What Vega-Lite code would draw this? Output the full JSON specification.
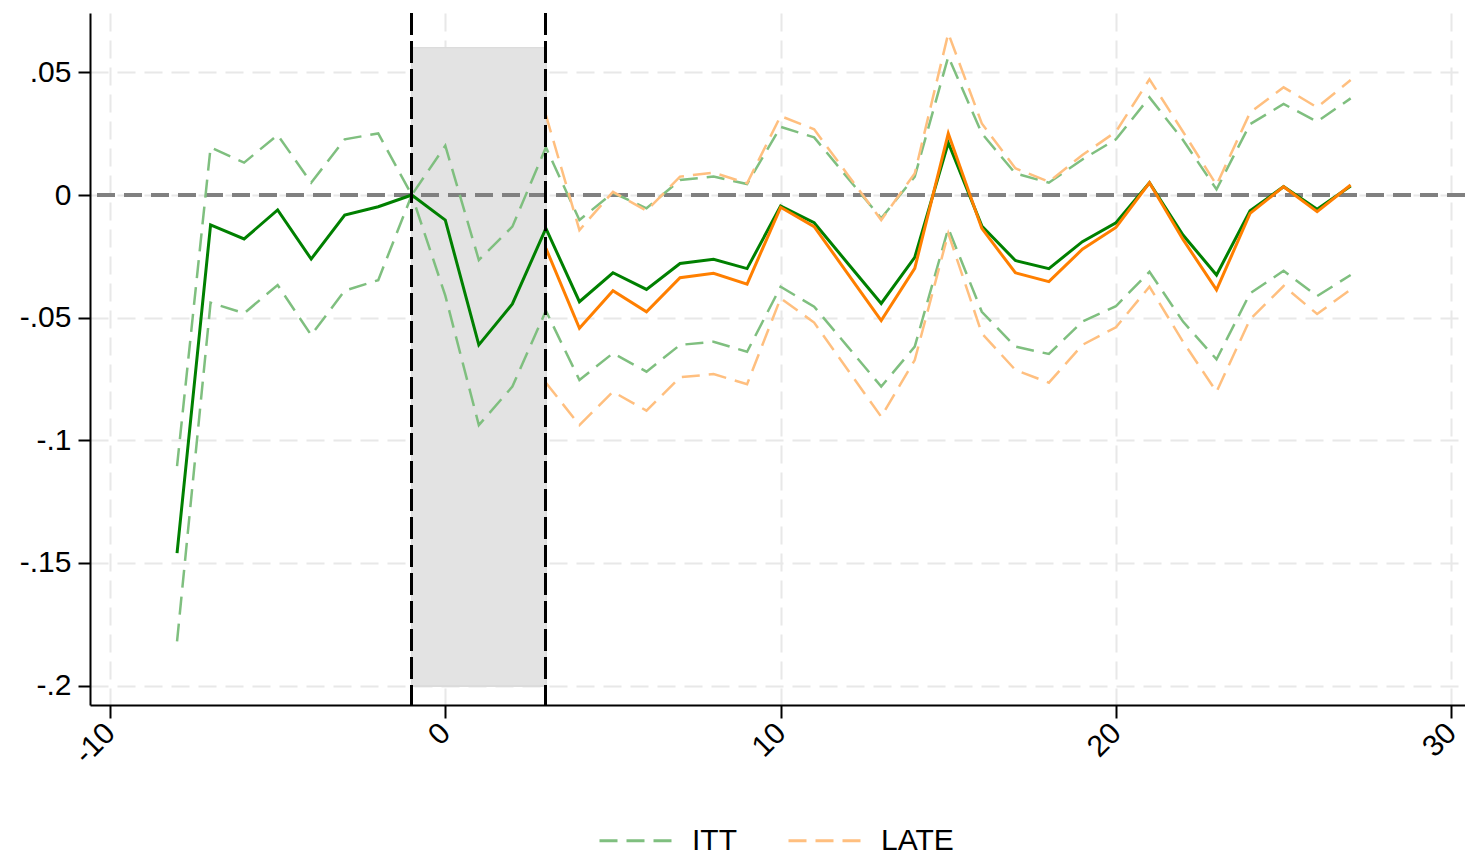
{
  "$schema": "https://vega.github.io/schema/vega-lite/v6.json",
  "width": 1375,
  "height": 692,
  "padding": {"left": 90, "top": 13, "right": 0, "bottom": 149},
  "autosize": {"type": "none"},
  "background": "white",
  "config": {
    "view": {"stroke": null},
    "font": "Liberation Sans",
    "axis": {
      "labelFont": "Liberation Sans",
      "labelFontSize": 30,
      "labelColor": "black",
      "domainColor": "black",
      "domainWidth": 2,
      "tickColor": "black",
      "tickWidth": 2,
      "grid": true,
      "gridColor": "#e8e8e8",
      "gridWidth": 2,
      "gridDash": [18, 9],
      "title": null
    }
  },
  "datasets": {
    "est": [
      {"t": -8, "g": "ITT", "est": -0.146, "lo": -0.182, "hi": -0.1105},
      {"t": -7, "g": "ITT", "est": -0.0122, "lo": -0.0439, "hi": 0.0194},
      {"t": -6, "g": "ITT", "est": -0.0179, "lo": -0.0482, "hi": 0.0132},
      {"t": -5, "g": "ITT", "est": -0.0061, "lo": -0.0367, "hi": 0.0245},
      {"t": -4, "g": "ITT", "est": -0.0261, "lo": -0.0571, "hi": 0.005},
      {"t": -3, "g": "ITT", "est": -0.0082, "lo": -0.039, "hi": 0.0227},
      {"t": -2, "g": "ITT", "est": -0.0048, "lo": -0.0347, "hi": 0.0251},
      {"t": -1, "g": "ITT", "est": 0, "lo": 0, "hi": 0},
      {"t": 0, "g": "ITT", "est": -0.0102, "lo": -0.041, "hi": 0.0201},
      {"t": 1, "g": "ITT", "est": -0.0611, "lo": -0.0938, "hi": -0.0265},
      {"t": 2, "g": "ITT", "est": -0.0444, "lo": -0.0781, "hi": -0.0129},
      {"t": 3, "g": "ITT", "est": -0.0136, "lo": -0.0472, "hi": 0.0194},
      {"t": 4, "g": "ITT", "est": -0.0435, "lo": -0.0754, "hi": -0.0102},
      {"t": 5, "g": "ITT", "est": -0.0317, "lo": -0.0645, "hi": 0.0009},
      {"t": 6, "g": "ITT", "est": -0.0385, "lo": -0.072, "hi": -0.0054},
      {"t": 7, "g": "ITT", "est": -0.0279, "lo": -0.0611, "hi": 0.0061},
      {"t": 8, "g": "ITT", "est": -0.0262, "lo": -0.0598, "hi": 0.0075},
      {"t": 9, "g": "ITT", "est": -0.03, "lo": -0.0639, "hi": 0.0045},
      {"t": 10, "g": "ITT", "est": -0.0045, "lo": -0.0374, "hi": 0.0278},
      {"t": 11, "g": "ITT", "est": -0.0113, "lo": -0.0455, "hi": 0.0235},
      {"t": 12, "g": "ITT", "est": -0.0278, "lo": -0.0618, "hi": 0.007},
      {"t": 13, "g": "ITT", "est": -0.0442, "lo": -0.0781, "hi": -0.0095},
      {"t": 14, "g": "ITT", "est": -0.0254, "lo": -0.0618, "hi": 0.0075},
      {"t": 15, "g": "ITT", "est": 0.0213, "lo": -0.0136, "hi": 0.0564},
      {"t": 16, "g": "ITT", "est": -0.0126, "lo": -0.0476, "hi": 0.0251},
      {"t": 17, "g": "ITT", "est": -0.0267, "lo": -0.0618, "hi": 0.0088},
      {"t": 18, "g": "ITT", "est": -0.03, "lo": -0.0648, "hi": 0.005},
      {"t": 19, "g": "ITT", "est": -0.019, "lo": -0.0516, "hi": 0.0145},
      {"t": 20, "g": "ITT", "est": -0.0113, "lo": -0.0453, "hi": 0.0227},
      {"t": 21, "g": "ITT", "est": 0.005, "lo": -0.0313, "hi": 0.0398},
      {"t": 22, "g": "ITT", "est": -0.0163, "lo": -0.0516, "hi": 0.0224},
      {"t": 23, "g": "ITT", "est": -0.0326, "lo": -0.067, "hi": 0.0023},
      {"t": 24, "g": "ITT", "est": -0.0064, "lo": -0.0401, "hi": 0.0289},
      {"t": 25, "g": "ITT", "est": 0.0034, "lo": -0.0309, "hi": 0.0371},
      {"t": 26, "g": "ITT", "est": -0.0058, "lo": -0.0412, "hi": 0.0299},
      {"t": 27, "g": "ITT", "est": 0.0037, "lo": -0.0326, "hi": 0.0394},
      {"t": 3, "g": "LATE", "est": -0.0217, "lo": -0.0765, "hi": 0.0326},
      {"t": 4, "g": "LATE", "est": -0.0543, "lo": -0.0938, "hi": -0.0143},
      {"t": 5, "g": "LATE", "est": -0.039, "lo": -0.0802, "hi": 0.0013},
      {"t": 6, "g": "LATE", "est": -0.0476, "lo": -0.0879, "hi": -0.0064},
      {"t": 7, "g": "LATE", "est": -0.0337, "lo": -0.0743, "hi": 0.0075},
      {"t": 8, "g": "LATE", "est": -0.0319, "lo": -0.073, "hi": 0.0091},
      {"t": 9, "g": "LATE", "est": -0.0363, "lo": -0.0771, "hi": 0.0048},
      {"t": 10, "g": "LATE", "est": -0.005, "lo": -0.0421, "hi": 0.0322},
      {"t": 11, "g": "LATE", "est": -0.0129, "lo": -0.052, "hi": 0.0268},
      {"t": 12, "g": "LATE", "est": -0.032, "lo": -0.0712, "hi": 0.0083},
      {"t": 13, "g": "LATE", "est": -0.0512, "lo": -0.0904, "hi": -0.0102},
      {"t": 14, "g": "LATE", "est": -0.0299, "lo": -0.0673, "hi": 0.0088},
      {"t": 15, "g": "LATE", "est": 0.0251, "lo": -0.0156, "hi": 0.0659},
      {"t": 16, "g": "LATE", "est": -0.0136, "lo": -0.0564, "hi": 0.0292},
      {"t": 17, "g": "LATE", "est": -0.0317, "lo": -0.0713, "hi": 0.0109},
      {"t": 18, "g": "LATE", "est": -0.0353, "lo": -0.0765, "hi": 0.0054},
      {"t": 19, "g": "LATE", "est": -0.0221, "lo": -0.0611, "hi": 0.0163},
      {"t": 20, "g": "LATE", "est": -0.0132, "lo": -0.0539, "hi": 0.0258},
      {"t": 21, "g": "LATE", "est": 0.005, "lo": -0.0374, "hi": 0.0472},
      {"t": 22, "g": "LATE", "est": -0.0181, "lo": -0.0598, "hi": 0.0258},
      {"t": 23, "g": "LATE", "est": -0.0387, "lo": -0.0802, "hi": 0.0041},
      {"t": 24, "g": "LATE", "est": -0.0075, "lo": -0.0507, "hi": 0.0336},
      {"t": 25, "g": "LATE", "est": 0.0034, "lo": -0.0371, "hi": 0.0439},
      {"t": 26, "g": "LATE", "est": -0.0068, "lo": -0.0485, "hi": 0.0357},
      {"t": 27, "g": "LATE", "est": 0.0041, "lo": -0.0385, "hi": 0.0469}
    ]
  },
  "data": {"name": "est"},
  "encoding": {
    "x": {
      "type": "quantitative",
      "scale": {"domain": [-10.596, 30.41], "nice": false, "zero": false},
      "axis": {
        "values": [-10, 0, 10, 20, 30],
        "grid": true,
        "labelAngle": -45,
        "labelAlign": "right",
        "labelBaseline": "middle",
        "tickSize": 13,
        "labelPadding": 10,
        "labelFlush": false,
        "labelOverlap": false,
        "labelExpr": "replace(format(datum.value, 'd'), '\u2212', '-')"
      }
    },
    "y": {
      "type": "quantitative",
      "scale": {"domain": [-0.2079, 0.0742], "nice": false, "zero": false},
      "axis": {
        "values": [-0.2, -0.15, -0.1, -0.05, 0, 0.05],
        "grid": true,
        "tickSize": 12,
        "labelPadding": 7,
        "labelFlush": false,
        "labelOverlap": false,
        "labelExpr": "datum.value == 0 ? '0' : replace(replace(format(datum.value, '~g'), '\u2212', '-'), '0.', '.')"
      }
    }
  },
  "layer": [
    {
      "mark": {"type": "rect", "fill": "#e3e3e3", "stroke": "#dcdcdc", "strokeWidth": 1},
      "encoding": {
        "x": {"datum": -1, "type": "quantitative"},
        "x2": {"datum": 3},
        "y": {"datum": -0.2, "type": "quantitative"},
        "y2": {"datum": 0.06}
      }
    },
    {
      "mark": {"type": "rule", "color": "#808080", "strokeWidth": 2.5, "strokeDash": [18, 9]},
      "encoding": {"y": {"datum": 0, "type": "quantitative"}}
    },
    {
      "mark": {"type": "line", "strokeWidth": 2.5, "strokeDash": [18, 9]},
      "encoding": {
        "x": {"field": "t", "type": "quantitative"},
        "y": {"field": "hi", "type": "quantitative"},
        "color": {
          "field": "g",
          "type": "nominal",
          "scale": {"domain": ["ITT", "LATE"], "range": ["#7fbf7f", "#ffbf7f"]},
          "legend": {
            "orient": "none",
            "legendX": 508,
            "legendY": 789,
            "direction": "horizontal",
            "title": null,
            "symbolType": "stroke",
            "symbolSize": 5476,
            "symbolStrokeWidth": 3,
            "symbolDash": [18, 9],
            "labelFont": "Liberation Sans",
            "labelFontSize": 30,
            "labelColor": "black",
            "labelOffset": 17,
            "columnPadding": 45,
            "padding": 0
          }
        }
      }
    },
    {
      "mark": {"type": "line", "strokeWidth": 2.5, "strokeDash": [18, 9]},
      "encoding": {
        "x": {"field": "t", "type": "quantitative"},
        "y": {"field": "lo", "type": "quantitative"},
        "color": {"field": "g", "type": "nominal"}
      }
    },
    {
      "transform": [{"filter": "datum.g == 'ITT'"}],
      "mark": {"type": "line", "strokeWidth": 3, "color": "#008000"},
      "encoding": {
        "x": {"field": "t", "type": "quantitative"},
        "y": {"field": "est", "type": "quantitative"}
      }
    },
    {
      "transform": [{"filter": "datum.g == 'LATE'"}],
      "mark": {"type": "line", "strokeWidth": 3, "color": "#ff7f00"},
      "encoding": {
        "x": {"field": "t", "type": "quantitative"},
        "y": {"field": "est", "type": "quantitative"}
      }
    },
    {
      "mark": {"type": "rule", "color": "black", "strokeWidth": 2, "strokeDash": [22, 6]},
      "encoding": {"x": {"datum": -1, "type": "quantitative"}}
    },
    {
      "mark": {"type": "rule", "color": "black", "strokeWidth": 2, "strokeDash": [22, 6]},
      "encoding": {"x": {"datum": 3, "type": "quantitative"}}
    }
  ]
}
